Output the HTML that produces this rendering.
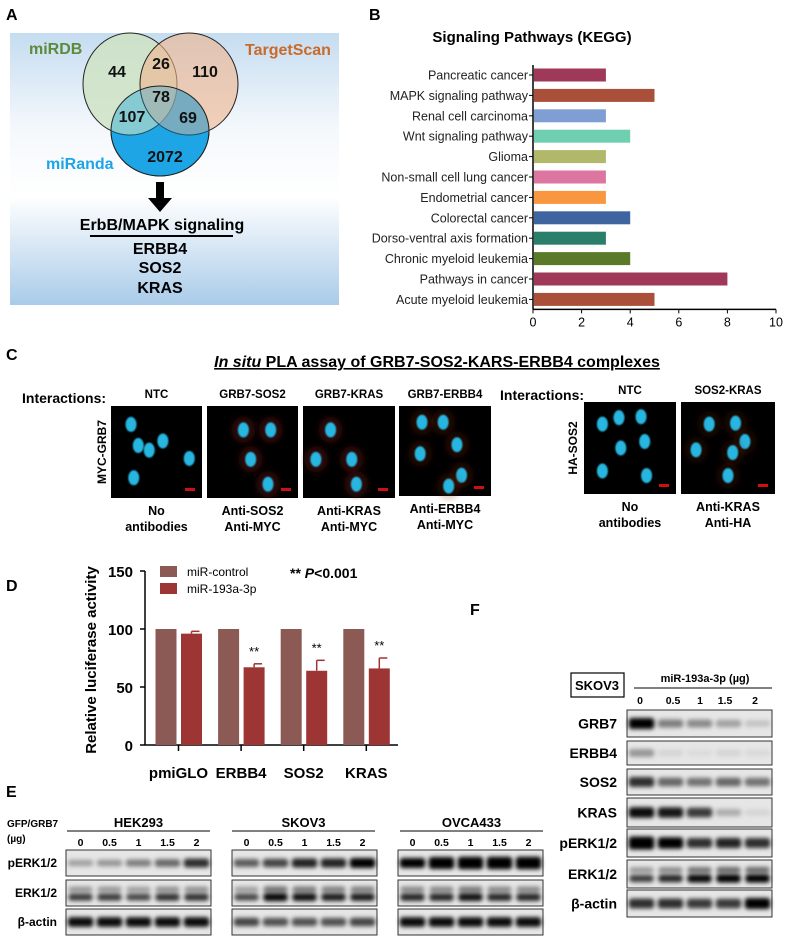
<!DOCTYPE html>
<html><head><meta charset="utf-8">
<style>
body{margin:0;background:#fff;}
svg{display:block;font-family:"Liberation Sans",sans-serif;}
.b{font-weight:bold;}
</style></head>
<body>
<svg id="fig" width="788" height="937" viewBox="0 0 788 937" xmlns="http://www.w3.org/2000/svg">
<defs>
<linearGradient id="bgA" x1="0" y1="0" x2="0" y2="1">
<stop offset="0" stop-color="#c5dcf0"/><stop offset="0.35" stop-color="#f4f8fc"/><stop offset="0.6" stop-color="#ffffff"/><stop offset="1" stop-color="#a9cbe9"/>
</linearGradient>
<filter id="blur1" x="-30%" y="-100%" width="160%" height="300%"><feGaussianBlur stdDeviation="2"/></filter>
<filter id="blur2"><feGaussianBlur stdDeviation="0.8"/></filter>
<filter id="blur3"><feGaussianBlur stdDeviation="3"/></filter>
</defs>

<!-- Panel A -->
<text x="6" y="20" class="b" font-size="16">A</text>
<rect x="10" y="33" width="329" height="272" fill="url(#bgA)"/>
<g>
<ellipse cx="160" cy="131" rx="49" ry="45" fill="#1ea5e6" stroke="#222" stroke-width="1"/>
<ellipse cx="130" cy="84" rx="47" ry="51" fill="#cfe3c4" fill-opacity="0.85" stroke="#222" stroke-width="1"/>
<ellipse cx="189" cy="84" rx="49" ry="51" fill="#f0b48c" fill-opacity="0.6" stroke="#222" stroke-width="1"/>
<ellipse cx="160" cy="131" rx="49" ry="45" fill="#1ea5e6" fill-opacity="0.3" stroke="#222" stroke-width="1"/>
</g>
<text x="29" y="54" font-size="16" class="b" fill="#5d8a3c">miRDB</text>
<text x="245" y="55" font-size="16" class="b" fill="#c96a2a">TargetScan</text>
<text x="46" y="169" font-size="16" class="b" fill="#1ea5e6">miRanda</text>
<g font-size="16" class="b" text-anchor="middle" fill="#111">
<text x="117" y="77">44</text><text x="161" y="69">26</text><text x="205" y="77">110</text>
<text x="161" y="102">78</text><text x="132" y="122">107</text><text x="188" y="123">69</text>
<text x="165" y="162">2072</text></g>
<rect x="156" y="182" width="8" height="18" fill="#000"/>
<polygon points="148,198 172,198 160,212" fill="#000"/>
<text x="162" y="230" font-size="16" class="b" text-anchor="middle">ErbB/MAPK signaling</text>
<line x1="90" y1="236" x2="233" y2="236" stroke="#000" stroke-width="2"/>
<g font-size="16" class="b" text-anchor="middle">
<text x="160" y="254">ERBB4</text><text x="160" y="273">SOS2</text><text x="160" y="293">KRAS</text></g>

<!-- Panel B -->
<text x="369" y="20" class="b" font-size="16">B</text>
<text x="532" y="42" class="b" font-size="15" text-anchor="middle">Signaling Pathways (KEGG)</text>
<g id="chartB"></g>

<!-- Panel C -->
<text x="6" y="360" class="b" font-size="16">C</text>
<text x="437" y="367" class="b" font-size="16" text-anchor="middle" text-decoration="underline"><tspan font-style="italic">In situ</tspan> PLA assay of GRB7-SOS2-KARS-ERBB4 complexes</text>
<g class="b">
<text x="22" y="403" font-size="14">Interactions:</text>
<text x="500" y="400" font-size="14">Interactions:</text>
</g>
<g id="pla"></g>
<text transform="translate(106,452) rotate(-90)" font-size="12" class="b" text-anchor="middle">MYC-GRB7</text>
<text transform="translate(577,448) rotate(-90)" font-size="12" class="b" text-anchor="middle">HA-SOS2</text>

<!-- Panel D -->
<text x="6" y="591" class="b" font-size="16">D</text>
<g id="chartD"></g>
<text transform="translate(96,660) rotate(-90)" font-size="15" class="b" text-anchor="middle">Relative luciferase activity</text>
<rect x="160" y="566" width="17" height="11" fill="#8b5a55"/>
<text x="187" y="576" font-size="12">miR-control</text>
<rect x="160" y="583" width="17" height="11" fill="#9e3535"/>
<text x="187" y="593" font-size="12">miR-193a-3p</text>
<text x="290" y="578" font-size="14" class="b">** <tspan font-style="italic">P</tspan>&lt;0.001</text>

<!-- Panel E -->
<text x="6" y="797" class="b" font-size="16">E</text>
<text x="7" y="827" font-size="10" class="b">GFP/GRB7</text>
<text x="7" y="842" font-size="10" class="b">(µg)</text>
<g id="blotsE"></g>

<!-- Panel F -->
<text x="470" y="615" class="b" font-size="16">F</text>
<rect x="571" y="673" width="53" height="24" fill="#fff" stroke="#000" stroke-width="1.2"/>
<text x="597" y="690" font-size="13" class="b" text-anchor="middle">SKOV3</text>
<text x="705" y="682" font-size="11" class="b" text-anchor="middle">miR-193a-3p (µg)</text>
<line x1="634" y1="688" x2="772" y2="688" stroke="#000" stroke-width="1"/>
<g id="blotsF"></g>

<script>
// ---------- Panel B data ----------
const keggCategories = ["Pancreatic cancer","MAPK signaling pathway","Renal cell carcinoma","Wnt signaling pathway","Glioma","Non-small cell lung cancer","Endometrial cancer","Colorectal cancer","Dorso-ventral axis formation","Chronic myeloid leukemia","Pathways in cancer","Acute myeloid leukemia"];
const keggValues = [3,5,3,4,3,3,3,4,3,4,8,5];
const keggColors = ["#a0385a","#a94f3a","#7f9fd4","#6fcfb0","#b2b86a","#dc75a0","#f99640","#3f65a0","#2a7f6a","#5a7a2a","#a0385a","#a94f3a"];
const keggTicks = [0,2,4,6,8,10];

// ---------- Panel D data ----------
const lucCategories = ["pmiGLO","ERBB4","SOS2","KRAS"];
const lucControl = [100,100,100,100];
const lucMir = [96,67,64,66];
const lucMirErr = [2,3,9,9];
const lucSig = ["","**","**","**"];
const lucTicks = [0,50,100,150];

const NS="http://www.w3.org/2000/svg";
function mk(tag,attrs,parent){const e=document.createElementNS(NS,tag);for(const k in attrs)e.setAttribute(k,attrs[k]);parent.appendChild(e);return e;}

// Chart B
(function(){
  const g=document.getElementById('chartB');
  const x0=533,x1=776,yTop=65,y0=75,step=20.4,bh=13;
  const xs=v=>x0+(v/10)*(x1-x0);
  const ys=i=>y0+i*step;
  const yBot=ys(keggCategories.length-1)+10;
  mk('line',{x1:x0,y1:yTop,x2:x0,y2:yBot,stroke:'#000','stroke-width':1.5},g);
  mk('line',{x1:x0,y1:yBot,x2:x1,y2:yBot,stroke:'#000','stroke-width':1.5},g);
  keggCategories.forEach((c,i)=>{
    const r=mk('rect',{x:x0+1,y:ys(i)-bh/2,width:xs(keggValues[i])-x0-1,height:bh,fill:keggColors[i]},g);
    
    
    mk('line',{x1:x0-4,y1:ys(i),x2:x0,y2:ys(i),stroke:'#000','stroke-width':1},g);
    const t=mk('text',{x:x0-5,y:ys(i)+4.5,'text-anchor':'end','font-size':12.5,fill:'#222'},g);
    t.textContent=c;
    
    
  });
  keggTicks.forEach(v=>{
    mk('line',{x1:xs(v),y1:yBot,x2:xs(v),y2:yBot+4,stroke:'#000','stroke-width':1},g);
    const t=mk('text',{x:xs(v),y:yBot+17,'text-anchor':'middle','font-size':12.5},g);
    t.textContent=v;
    
    
  });
})();

// Chart D
(function(){
  const g=document.getElementById('chartD');
  const xa=145,xb=398,yZero=745,yPer=(745-629)/100;
  const ys=v=>yZero-v*yPer;
  const gx=i=>178.5+i*62.6;
  mk('line',{x1:xa,y1:ys(0),x2:xa,y2:ys(150),stroke:'#000','stroke-width':1.5},g);
  mk('line',{x1:xa,y1:ys(0),x2:xb,y2:ys(0),stroke:'#000','stroke-width':1.5},g);
  lucTicks.forEach(v=>{
    mk('line',{x1:xa-5,y1:ys(v),x2:xa,y2:ys(v),stroke:'#000','stroke-width':1.5},g);
    const t=mk('text',{x:xa-12,y:ys(v)+6,'text-anchor':'end','font-size':15,'font-weight':'bold'},g);
    t.textContent=v;
    
    
  });
  lucCategories.forEach((c,i)=>{
    const cx=gx(i);
    const b1=mk('rect',{x:cx-23,y:ys(lucControl[i]),width:21,height:ys(0)-ys(lucControl[i]),fill:'#8b5a55'},g);
    
    
    const b2=mk('rect',{x:cx+2.5,y:ys(lucMir[i]),width:21,height:ys(0)-ys(lucMir[i]),fill:'#9e3535'},g);
    
    
    const ex=cx+13, et=ys(lucMir[i]+lucMirErr[i]);
    mk('line',{x1:ex,y1:ys(lucMir[i]),x2:ex,y2:et,stroke:'#9e3535','stroke-width':1.5},g);
    mk('line',{x1:ex,y1:et,x2:ex+8,y2:et,stroke:'#9e3535','stroke-width':1.5},g);
    if(lucSig[i]){const s=mk('text',{x:ex,y:et-8,'text-anchor':'middle','font-size':13},g);s.textContent=lucSig[i];
      
      }
    mk('line',{x1:cx,y1:ys(0),x2:cx,y2:ys(0)+6,stroke:'#000','stroke-width':1.5},g);
    const t=mk('text',{x:cx,y:778,'text-anchor':'middle','font-size':15,'font-weight':'bold'},g);
    t.textContent=c;
    
    
  });
})();

// PLA images
(function(){
  const g=document.getElementById('pla');
  const panels=[
    {x:111,y:406,w:91,h:92,head:'NTC',sub:['No','antibodies'],red:0,cells:[[22,20],[30,43],[42,48],[57,38],[86,57],[25,78]]},
    {x:207,y:406,w:91,h:92,head:'GRB7-SOS2',sub:['Anti-SOS2','Anti-MYC'],red:1,cells:[[40,26],[70,26],[48,58],[67,85]]},
    {x:303,y:406,w:92,h:92,head:'GRB7-KRAS',sub:['Anti-KRAS','Anti-MYC'],red:1,cells:[[30,26],[14,58],[53,58],[58,85]]},
    {x:399,y:406,w:92,h:90,head:'GRB7-ERBB4',sub:['Anti-ERBB4','Anti-MYC'],red:0.7,cells:[[25,18],[48,18],[63,43],[23,53],[68,77],[54,89]]},
    {x:584,y:402,w:92,h:92,head:'NTC',sub:['No','antibodies'],red:0,cells:[[20,24],[38,17],[62,16],[66,43],[40,50],[20,75],[68,80]]},
    {x:681,y:402,w:94,h:92,head:'SOS2-KRAS',sub:['Anti-KRAS','Anti-HA'],red:0.5,cells:[[30,24],[58,23],[68,43],[16,52],[55,55],[50,80]]}
  ];
  panels.forEach((p,pi)=>{
    const hx=p.x+p.w/2;
    const h=mk('text',{x:hx,y:p.y-8,'text-anchor':'middle','font-size':11.5,'font-weight':'bold'},g);h.textContent=p.head;
    
    
    const r=mk('rect',{x:p.x,y:p.y,width:p.w,height:p.h,fill:'#000'},g);
    
    
    p.cells.forEach((c,ci)=>{
      const cx=p.x+c[0]*p.w/100, cy=p.y+c[1]*p.h/100;
      if(p.red) mk('ellipse',{cx:cx,cy:cy,rx:12,ry:13,fill:'#7a2010','fill-opacity':0.35*p.red,filter:'url(#blur3)'},g);
      mk('ellipse',{cx:cx,cy:cy,rx:5.5,ry:7.5,fill:'#27b6e0',filter:'url(#blur2)'},g);
    });
    mk('rect',{x:p.x+p.w-17,y:p.y+p.h-10,width:10,height:3,fill:'#d01010'},g);
    p.sub.forEach((s,si)=>{const t=mk('text',{x:hx,y:p.y+p.h+17+si*16,'text-anchor':'middle','font-size':12.5,'font-weight':'bold'},g);t.textContent=s;
      
      });
  });
})();

function drawBlot(g,x,y,w,h,ints,double,thick){
  const r=mk('rect',{x:x,y:y,width:w,height:h,fill:'#e6e6e6',stroke:'#333','stroke-width':1},g);
  
  
  const n=ints.length, lw=w/n;
  ints.forEach((v,i)=>{
    const cx=x+lw*(i+0.5);
    const bh=(thick||6)+v*5;
    if(double){
      mk('rect',{x:cx-lw*0.42,y:y+h*0.36-bh*0.3,width:lw*0.84,height:bh*0.6,rx:3,fill:'#000','fill-opacity':Math.min(1,v*0.6),filter:'url(#blur1)'},g);
      mk('rect',{x:cx-lw*0.42,y:y+h*0.66-bh*0.4,width:lw*0.84,height:bh*0.8,rx:3,fill:'#000','fill-opacity':Math.min(1,v*0.9+0.2),filter:'url(#blur1)'},g);
    } else {
      mk('rect',{x:cx-lw*0.44,y:y+h/2-bh/2,width:lw*0.88,height:bh,rx:3,fill:'#000','fill-opacity':Math.min(1,v),filter:'url(#blur1)'},g);
    }
  });
}

// Panel E
(function(){
  const g=document.getElementById('blotsE');
  const doses=["0","0.5","1","1.5","2"];
  const groups=[
    {name:'HEK293',x:66,line:[67,210],p:[0.3,0.35,0.45,0.55,0.8],e:[0.6,0.6,0.55,0.65,0.65],a:[0.95,0.95,0.95,0.95,0.95]},
    {name:'SKOV3',x:232,line:[232,375],p:[0.6,0.7,0.85,0.85,1],e:[0.55,0.85,0.8,0.75,0.75],a:[0.7,0.65,0.65,0.65,0.7]},
    {name:'OVCA433',x:398,line:[400,543],p:[1,1.4,1.5,1.5,1.5],e:[0.7,0.7,0.8,0.7,0.7],a:[0.95,0.95,0.95,0.95,0.95]}
  ];
  const w=145;
  groups.forEach(gr=>{
    const t=mk('text',{x:(gr.line[0]+gr.line[1])/2,y:827,'text-anchor':'middle','font-size':13,'font-weight':'bold'},g);t.textContent=gr.name;
    
    
    mk('line',{x1:gr.line[0],y1:831,x2:gr.line[1],y2:831,stroke:'#000','stroke-width':1},g);
    doses.forEach((d,i)=>{const n=mk('text',{x:gr.x+w/5*(i+0.5),y:846,'text-anchor':'middle','font-size':10.5,'font-weight':'bold'},g);n.textContent=d;
      
      });
    drawBlot(g,gr.x,850,w,26,gr.p,false,5);
    drawBlot(g,gr.x,880,w,26,gr.e,true,6);
    drawBlot(g,gr.x,909,w,26,gr.a,false,5);
  });
  [['pERK1/2',867],['ERK1/2',897],['β-actin',926]].forEach(l=>{const t=mk('text',{x:57,y:l[1],'text-anchor':'end','font-size':12,'font-weight':'bold'},g);t.textContent=l[0];
    
    });
})();

// Panel F
(function(){
  const g=document.getElementById('blotsF');
  const doses=["0","0.5","1","1.5","2"];
  const x=627,w=145;
  const lx=[640,673,700,725,755];
  doses.forEach((d,i)=>{const n=mk('text',{x:lx[i],y:704,'text-anchor':'middle','font-size':10.5,'font-weight':'bold'},g);n.textContent=d;
    
    });
  const rows=[
    ['GRB7',710,27,[1,0.45,0.4,0.3,0.15],false],
    ['ERBB4',741,24,[0.35,0.08,0.05,0.08,0.06],false],
    ['SOS2',769,26,[0.8,0.55,0.5,0.55,0.5],false],
    ['KRAS',798,29,[0.95,0.9,0.75,0.25,0.08],false],
    ['pERK1/2',829,28,[1.4,1.1,0.8,0.85,0.8],false],
    ['ERK1/2',860,28,[0.6,0.7,0.85,0.9,0.9],true],
    ['β-actin',890,27,[0.8,0.8,0.75,0.75,1],false]
  ];
  rows.forEach(r=>{
    drawBlot(g,x,r[1],w,r[2],r[3],r[4],6);
    const t=mk('text',{x:617,y:r[1]+r[2]/2+5,'text-anchor':'end','font-size':14,'font-weight':'bold'},g);t.textContent=r[0];
    
    
  });
})();
</script>
</svg>
</body></html>
